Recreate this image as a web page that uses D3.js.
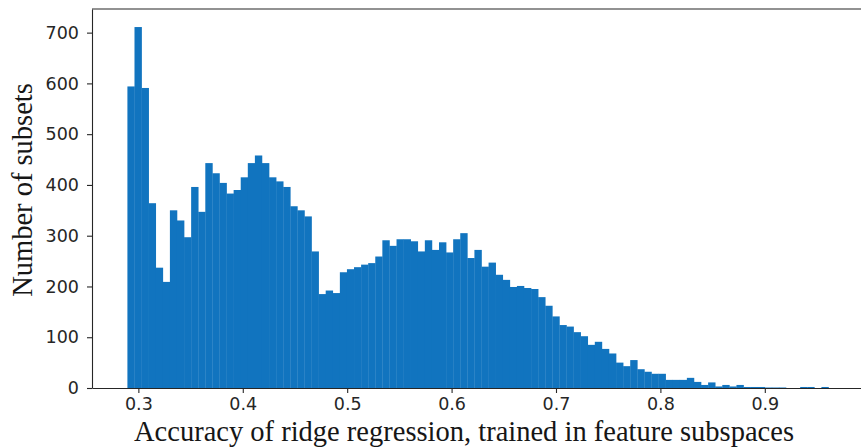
<!DOCTYPE html>
<html>
<head>
<meta charset="utf-8">
<script src="https://cdn.jsdelivr.net/npm/d3@7"></script>
<style>
  body { margin: 0; background: #fff; }
  svg { display: block; }
  .tick text { font-family: "DejaVu Sans", sans-serif; font-size: 17.5px; fill: #262626; }
  .tick line, .domain { stroke: #262626; stroke-width: 1.1; }
  .label { font-family: "Liberation Serif", "Times New Roman", serif; fill: #161616; }
</style>
</head>
<body>
<div id="chart"></div>
<script>
// histogram: 100 bins starting at binStart, each binWidth wide
const binStart = 0.2895;
const binWidth = 0.006783;
const counts = [
  594, 711, 591, 364, 237, 209, 350, 330, 297, 396,
  347, 443, 423, 404, 383, 390, 415, 443, 458, 443,
  415, 407, 396, 358, 350, 338, 269, 185, 192, 187,
  228, 234, 238, 243, 246, 259, 291, 280, 293, 293,
  289, 269, 291, 272, 287, 267, 293, 305, 256, 272,
  239, 247, 223, 213, 199, 201, 197, 195, 179, 162,
  141, 124, 121, 110, 102, 85, 91, 77, 68, 50,
  43, 55, 37, 32, 28, 28, 16, 16, 16, 20,
  12, 6, 11, 3, 6, 3, 6, 2, 2, 2,
  1, 1, 1, 0, 0, 2, 2, 0, 2, 0
];
const xTicks = [0.3, 0.4, 0.5, 0.6, 0.7, 0.8, 0.9];
const yTicks = [0, 100, 200, 300, 400, 500, 600, 700];
const xTitle = "Accuracy of ridge regression, trained in feature subspaces";
const yTitle = "Number of subsets";

const width = 861, height = 448;
const margin = { top: 9, left: 92, bottom: 60 };

const bins = counts.map((c, i) => ({
  x0: binStart + i * binWidth,
  x1: binStart + (i + 1) * binWidth,
  value: c
}));

const svg = d3.select('#chart')
  .append('svg')
  .attr('width', width)
  .attr('height', height);

svg.append('rect').attr('width', width).attr('height', height).attr('fill', '#fff');

// matplotlib style 5% padding around data range
const dataMin = bins[0].x0, dataMax = bins[bins.length - 1].x1;
const pad = (dataMax - dataMin) * 0.05;
const x = d3.scaleLinear()
  .domain([dataMin - pad, dataMax + pad])
  .range([margin.left, 871]);

const yMax = d3.max(counts) * 1.05;
const y = d3.scaleLinear()
  .domain([0, yMax])
  .range([height - margin.bottom, margin.top]);

// bars
svg.append('g')
  .selectAll('rect')
  .data(bins)
  .enter()
  .append('rect')
  .attr('x', d => x(d.x0))
  .attr('width', d => x(d.x1) - x(d.x0) + 0.3)
  .attr('y', d => y(d.value))
  .attr('height', d => y(0) - y(d.value))
  .attr('fill', '#1174bf');

// frame (right spine falls outside the picture)
svg.append('line')
  .attr('x1', x.range()[0]).attr('x2', x.range()[1])
  .attr('y1', y(yMax)).attr('y2', y(yMax))
  .attr('stroke', '#262626').attr('stroke-width', 1.1);

// axes
svg.append('g')
  .attr('transform', `translate(0,${y(0)})`)
  .call(d3.axisBottom(x).tickValues(xTicks).tickSize(5).tickSizeOuter(0).tickPadding(5)
    .tickFormat(d3.format('.1f')));

svg.append('g')
  .attr('transform', `translate(${x.range()[0]},0)`)
  .call(d3.axisLeft(y).tickValues(yTicks).tickSize(5).tickSizeOuter(0).tickPadding(8));

// titles
svg.append('text')
  .attr('class', 'label')
  .attr('x', 464)
  .attr('y', 441)
  .attr('text-anchor', 'middle')
  .style('font-size', '28.5px')
  .text(xTitle);

svg.append('text')
  .attr('class', 'label')
  .attr('transform', 'translate(32,190) rotate(-90)')
  .attr('text-anchor', 'middle')
  .style('font-size', '28.5px')
  .text(yTitle);
</script>
</body>
</html>
